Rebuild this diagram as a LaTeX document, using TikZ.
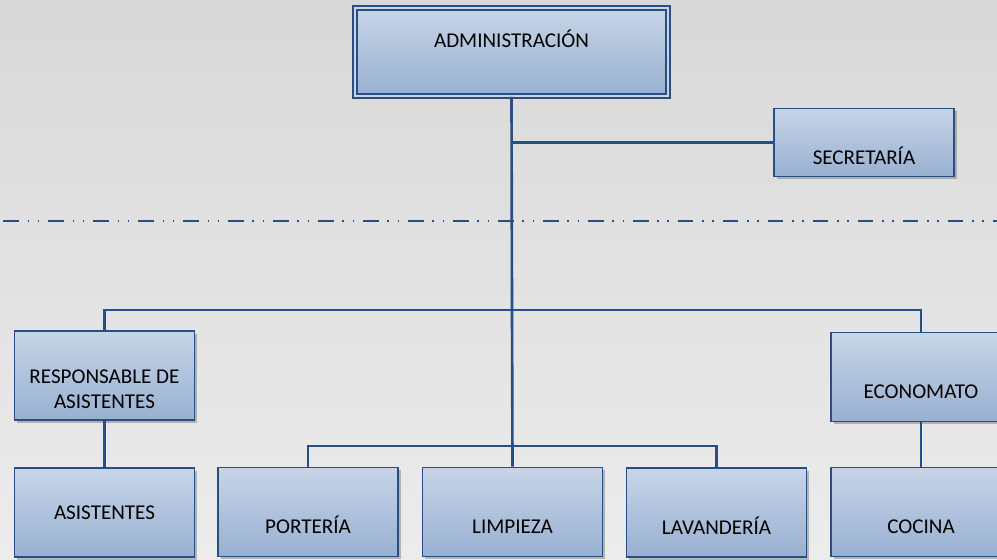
\documentclass[tikz,border=0pt]{standalone}
\usepackage{fontspec}
\setmainfont{Carlito}
\usetikzlibrary{shadows}

\definecolor{lined}{RGB}{40,78,132}
\definecolor{boxtop}{RGB}{199,213,231}
\definecolor{boxbot}{RGB}{152,176,209}
\definecolor{bgtop}{RGB}{216,216,216}
\definecolor{bgbot}{RGB}{236,236,236}

\begin{document}
\begin{tikzpicture}[x=0.02cm, y=-0.02cm, font=\fontsize{12}{14.6}\selectfont,
    box/.style = {draw=lined, line width=1.1pt, top color=boxtop, bottom color=boxbot,
                  minimum width=3.6cm, minimum height=1.78cm, inner sep=0pt, align=center,
                  drop shadow={shadow xshift=1.5pt, shadow yshift=-1.5pt, opacity=0.35, fill=black!70}},
    low/.style  = {text height=25pt, text depth=0pt},
    high/.style = {text height=8pt, text depth=13.2pt},
    link/.style = {draw=lined, line width=1.5pt}]
                \useasboundingbox (0,0) rectangle (997,559);
                \clip (0,0) rectangle (997,559);
                \shade[top color=bgtop, bottom color=bgbot] (0,0) rectangle (997,559);
                % separator
                \draw[lined, line width=1.2pt, dash pattern=on 9pt off 5pt on 0.8pt off 5pt on 0.8pt off 5pt] (3,221) -- (997,221);
                % boxes
                \node[box, high, double=boxtop, double distance=1.5pt, line width=1pt,
                      minimum width=6.26cm, minimum height=1.76cm] (adm) at (511.5,52) {ADMINISTRACIÓN};
                \node[box, low, minimum height=1.36cm] (sec) at (864,142.5) {SECRETARÍA};
                \node[box] (resp) at (104.5,375.5) {\rule{0pt}{23.5pt}RESPONSABLE DE\\ASISTENTES};
                \node[box] (asis) at (104.5,512.5) {ASISTENTES};
                \node[box, low] (port) at (308,512) {PORTERÍA};
                \node[box, low] (limp) at (512.5,512) {LIMPIEZA};
                \node[box, low] (lav) at (716.5,512.5) {LAVANDERÍA};
                \node[box, low] (eco) at (921,377) {ECONOMATO};
                \node[box, low] (coc) at (921,512) {COCINA};
                \coordinate (bus) at (512,310);
                \coordinate (sub) at (512,446);
                % connectors
                \draw[link] (adm.south) -- (bus);
                \draw[link] (adm.south |- sec.west) -- (sec.west);
                \draw[link] (resp.north) |- (bus) -| (eco.north);
                \draw[link] (bus) -- (limp.north);
                \draw[link] (port.north) |- (sub) -| (lav.north);
                \draw[link] (resp.south) -- (asis.north);
                \draw[link] (eco.south) -- (coc.north);
            \end{tikzpicture}
\end{document}
